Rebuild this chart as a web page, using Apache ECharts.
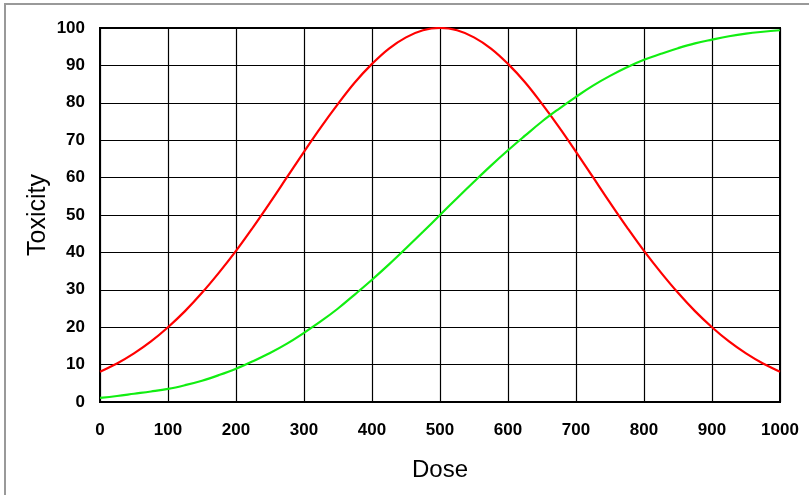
<!DOCTYPE html>
<html>
<head>
<meta charset="utf-8">
<script src="https://cdn.jsdelivr.net/npm/echarts@6/dist/echarts.min.js"></script>
<style>html,body{margin:0;padding:0;background:#fff}#c{width:809px;height:495px}</style>
</head>
<body>
<div id="c"></div>
<script>
const doses = [0,25,50,75,100,125,150,175,200,225,250,275,300,325,350,375,400,425,450,475,500,525,550,575,600,625,650,675,700,725,750,775,800,825,850,875,900,925,950,975,1000];
const redTox = [8.1,10.3,13.0,16.2,20.0,24.3,29.2,34.6,40.4,46.7,53.3,60.1,66.9,73.5,79.7,85.5,90.4,94.5,97.5,99.4,100,99.4,97.5,94.5,90.4,85.5,79.7,73.5,66.9,60.1,53.3,46.7,40.4,34.6,29.2,24.3,20.0,16.2,13.0,10.3,8.1];
const greenTox = [1.1,1.6,2.2,2.8,3.5,4.5,5.7,7.2,8.9,10.9,13.1,15.6,18.5,21.6,25.0,28.8,32.7,36.8,41.1,45.5,50.0,54.5,58.9,63.2,67.3,71.2,75.0,78.4,81.6,84.6,87.2,89.5,91.5,93.1,94.6,95.9,96.9,97.8,98.5,99.0,99.4];
const xTicks = {min:0, max:1000, interval:100};
const yTicks = {min:0, max:100, interval:10};

const chart = echarts.init(document.getElementById('c'), null, {renderer:'canvas'});
const FONT = 'Liberation Sans, Arial, sans-serif';
const lbl = {color:'#000', fontFamily:FONT, fontWeight:'bold', fontSize:17};
chart.setOption({
  animation:false,
  backgroundColor:'#fff',
  graphic:[{type:'rect', shape:{x:5,y:4,width:900,height:700}, style:{fill:'none', stroke:'#999', lineWidth:2}, z:-1}],
  grid:{left:100, top:28, right:29, bottom:93, show:true, borderColor:'#000', borderWidth:2, backgroundColor:'transparent'},
  xAxis:{type:'value', min:xTicks.min, max:xTicks.max, interval:xTicks.interval,
    name:'Dose', nameLocation:'middle', nameGap:56, nameMoveOverlap:false,
    nameTextStyle:{color:'#000', fontFamily:FONT, fontSize:24},
    axisLine:{show:true, lineStyle:{color:'#000', width:2}}, axisTick:{show:false},
    axisLabel:Object.assign({margin:20, formatter:v=>String(v)}, lbl),
    splitLine:{show:true, lineStyle:{color:'#000', width:1.2}}},
  yAxis:{type:'value', min:yTicks.min, max:yTicks.max, interval:yTicks.interval,
    name:'Toxicity', nameLocation:'middle', nameGap:49, nameRotate:90, nameMoveOverlap:false,
    nameTextStyle:{color:'#000', fontFamily:FONT, fontSize:25},
    axisLine:{show:true, lineStyle:{color:'#000', width:2}}, axisTick:{show:false},
    axisLabel:Object.assign({margin:15, formatter:v=>String(v)}, lbl),
    splitLine:{show:true, lineStyle:{color:'#000', width:1.2}}},
  series:[
    {type:'line', data:doses.map((d,i)=>[d, redTox[i]]), smooth:0.4, showSymbol:false, lineStyle:{color:'#ff0000', width:2.2}, z:3},
    {type:'line', data:doses.map((d,i)=>[d, greenTox[i]]), smooth:0.4, showSymbol:false, lineStyle:{color:'#11ee11', width:2.2}, z:3}
  ]
});
</script>
</body>
</html>
